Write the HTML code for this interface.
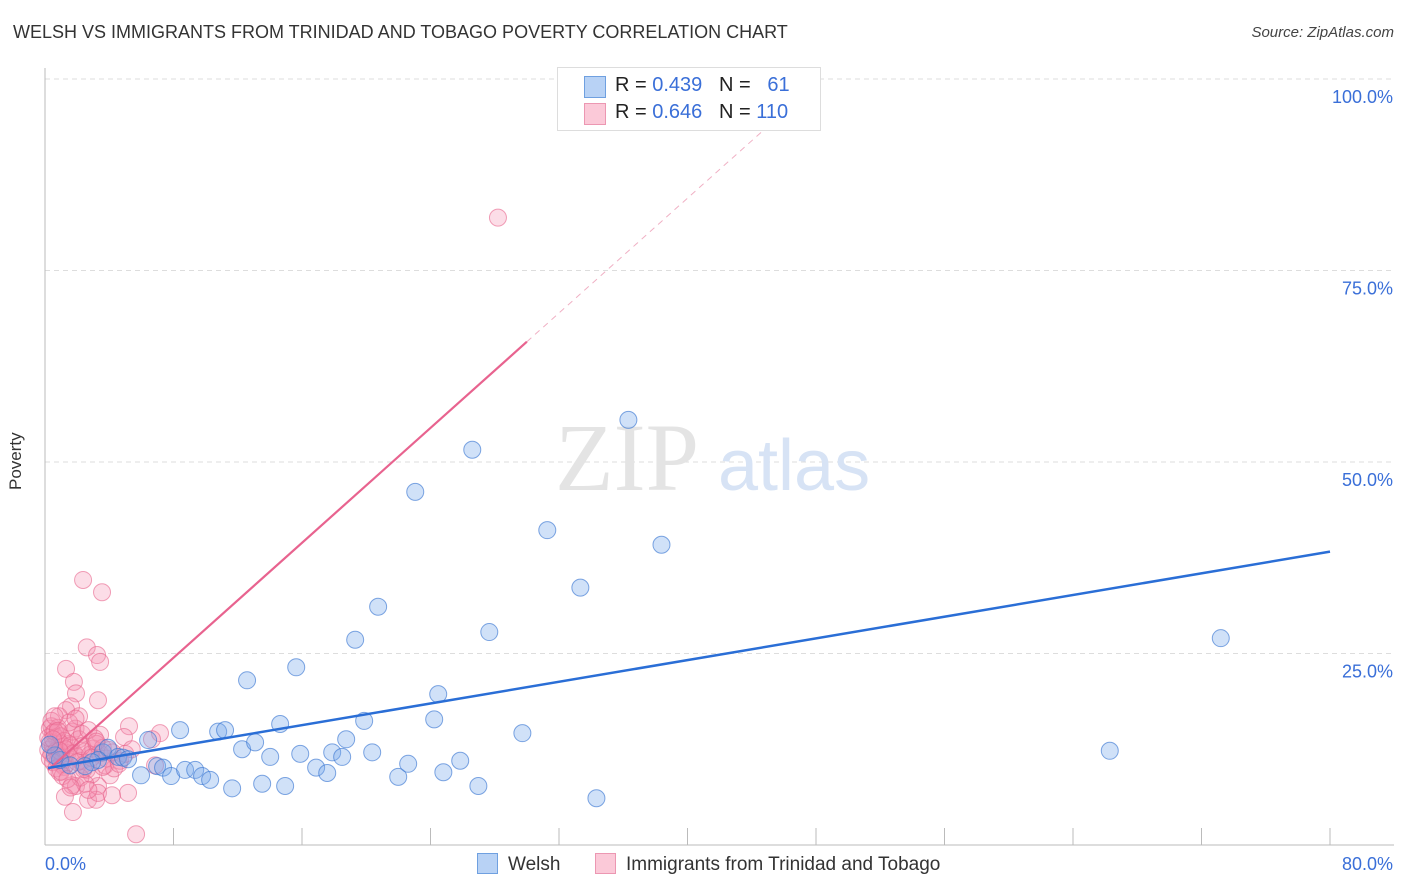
<!DOCTYPE html>
<html><head><meta charset="utf-8"><style>
body{margin:0;background:#fff;font-family:"Liberation Sans",sans-serif;}
#wrap{position:relative;width:1406px;height:892px;overflow:hidden;}
.t{position:absolute;white-space:nowrap;}
</style></head><body>
<div id="wrap">
<div class="t" style="left:13px;top:22px;font-size:18px;color:#333;">WELSH VS IMMIGRANTS FROM TRINIDAD AND TOBAGO POVERTY CORRELATION CHART</div>
<div class="t" style="right:12px;top:24px;font-size:15px;font-style:italic;color:#444;">Source: ZipAtlas.com</div>
<div class="t" style="left:6px;top:444px;font-size:17px;color:#333;transform:rotate(-90deg);transform-origin:left top;top:490px;">Poverty</div>
<svg id="svg" width="1406" height="892" style="position:absolute;left:0;top:0"></svg>
</div>
<script>
const xTicks=[0,80];
const yTicks=[25,50,75,100];
const blueX=[5.98,6.42,6.98,7.35,7.85,8.41,8.72,9.35,9.78,10.28,10.78,11.21,11.65,12.27,12.58,13.08,13.52,14.02,14.64,14.95,15.64,15.89,16.88,17.57,17.88,18.5,18.75,19.31,19.87,20.37,20.74,21.99,22.61,23.05,24.48,24.23,24.8,25.85,26.6,26.98,27.66,29.72,31.27,33.33,34.33,36.32,38.38,66.29,73.2,3.61,3.92,4.55,4.86,5.17,3.3,2.93,2.49,0.93,0.62,0.31,1.56];
const blueY=[9.1,13.7,10.3,10.1,9.0,15.0,9.8,9.8,9.0,8.5,14.8,15.0,7.4,12.5,21.5,13.4,8.0,11.5,15.8,7.7,23.2,11.9,10.1,9.4,12.1,11.5,13.8,26.8,16.2,12.1,31.1,8.9,10.6,46.1,19.7,16.4,9.5,11.0,51.6,7.7,27.8,14.6,41.1,33.6,6.1,55.5,39.2,12.3,27.0,12.1,12.7,11.5,11.4,11.2,11.1,10.8,10.3,11.1,11.7,13.1,10.4];
const pinkX=[28.2,2.37,3.55,2.6,3.24,3.43,1.31,1.8,1.93,3.3,1.62,1.31,2.12,0.87,5.23,7.16,4.92,3.43,3.74,4.05,1.68,3.3,2.68,3.18,1.74,1.93,3.3,5.17,5.67,4.17,4.3,4.67,6.66,6.85,1.24,0.3,0.5,0.7,0.9,1.1,0.2,0.4,0.6,0.8,1.0,1.2,1.4,0.3,0.5,0.7,0.9,1.1,1.3,1.5,0.2,0.4,0.6,0.8,1.0,1.2,0.3,0.5,0.7,0.9,1.1,1.3,1.6,1.8,2.0,2.2,2.4,1.7,1.9,2.1,2.3,2.5,2.8,3.0,3.2,2.6,2.9,3.4,3.6,3.8,4.0,2.2,2.5,2.7,1.5,1.9,2.3,0.4,0.6,0.8,1.0,2.0,2.7,3.1,3.6,4.2,4.6,5.0,5.4,1.4,1.6,2.4,2.9,3.2,0.5,0.9];
const pinkY=[81.9,34.6,33.0,25.8,24.8,23.9,23.0,21.3,19.8,18.9,18.1,17.6,16.8,16.8,15.5,14.6,14.1,14.4,10.4,9.1,7.8,7.7,5.9,5.9,4.3,7.7,6.8,6.8,1.4,6.5,10.0,11.0,13.8,10.4,6.3,15.2,14.6,14.0,13.3,12.8,12.4,11.9,11.5,11.0,10.6,10.2,12.0,13.5,12.9,12.3,11.7,11.1,10.5,13.2,14.0,15.5,14.8,15.3,14.2,13.6,11.3,10.8,10.0,9.5,9.0,12.5,13.0,12.0,11.5,11.0,10.5,14.8,15.2,13.8,14.5,12.2,11.8,12.6,13.2,9.8,9.2,12.0,12.7,11.3,12.4,8.8,8.0,7.2,16.0,16.5,12.9,16.2,16.8,14.9,9.6,10.8,15.0,13.9,10.2,12.1,10.6,11.9,12.5,8.6,7.5,9.9,11.4,13.5,13.8,12.3];
const blueLine=[0.19,10.05,80,38.3];
const pinkLine=[0.19,9.8,30.0,65.7];
const pinkDash=[30.0,65.7,48.3,100];
const X=v=>45+v/80*1285, Y=v=>845-v*7.66;
const svg=document.getElementById('svg');const NS='http://www.w3.org/2000/svg';
function mk(t,a){const e=document.createElementNS(NS,t);for(const k in a)e.setAttribute(k,a[k]);svg.appendChild(e);return e;}
for(const v of yTicks){const g=mk('line',{x1:45,x2:1394,y1:Y(v),y2:Y(v),stroke:'#ddd','stroke-dasharray':'5,4'});


const t=mk('text',{x:1393,y:Y(v)+24,'text-anchor':'end','font-size':18,fill:'#3a6fd8'});t.textContent=v.toFixed(1)+'%';

}
let ax=mk('line',{x1:45,x2:45,y1:68,y2:845,stroke:'#bbb'});


ax=mk('line',{x1:45,x2:1394,y1:845,y2:845,stroke:'#bbb'});


for(let i=1;i<=10;i++){const t=mk('line',{x1:X(i*8),x2:X(i*8),y1:828,y2:845,stroke:'#bbb'});

}
xTicks.forEach((v,i)=>{const t=mk('text',{x:i?1393:45,y:870,'text-anchor':i?'end':'start','font-size':18,fill:'#3a6fd8'});t.textContent=v.toFixed(1)+'%';

});
let wm=mk('text',{x:555,y:490,'font-size':96,fill:'#e4e4e4','font-family':'Liberation Serif'});wm.textContent='ZIP';


wm=mk('text',{x:718,y:490,'font-size':72,fill:'#d7e3f5'});wm.textContent='atlas';


pinkX.forEach((x,i)=>{const c=mk('circle',{cx:X(x),cy:Y(pinkY[i]),r:8.5,fill:'rgba(244,143,177,0.3)',stroke:'rgba(232,100,140,0.6)','stroke-width':1});

});
blueX.forEach((x,i)=>{const c=mk('circle',{cx:X(x),cy:Y(blueY[i]),r:8.5,fill:'rgba(120,170,235,0.35)',stroke:'rgba(60,120,210,0.65)','stroke-width':1});

});
let l=mk('line',{x1:X(pinkDash[0]),y1:Y(pinkDash[1]),x2:X(pinkDash[2]),y2:Y(pinkDash[3]),stroke:'#f0b0c4','stroke-width':1,'stroke-dasharray':'6,5'});


l=mk('line',{x1:X(pinkLine[0]),y1:Y(pinkLine[1]),x2:X(pinkLine[2]),y2:Y(pinkLine[3]),stroke:'#e8638f','stroke-width':2.2});


l=mk('line',{x1:X(blueLine[0]),y1:Y(blueLine[1]),x2:X(blueLine[2]),y2:Y(blueLine[3]),stroke:'#2a6ed6','stroke-width':2.5});


</script>
<div style="position:absolute;left:557px;top:67px;width:262px;height:62px;border:1px solid #ddd;background:#fff;font-size:20px;color:#222;">
<div style="position:absolute;left:26px;top:8px;width:20px;height:20px;background:#b8d2f5;border:1px solid #6fa0e0;"></div>
<div class="t" style="left:57px;top:6px;">R = <span style="color:#3a6fd8">0.439</span>&nbsp;&nbsp;&nbsp;N = &nbsp;&nbsp;<span style="color:#3a6fd8">61</span></div>
<div style="position:absolute;left:26px;top:35px;width:20px;height:20px;background:#fbc9d8;border:1px solid #ec97b2;"></div>
<div class="t" style="left:57px;top:33px;">R = <span style="color:#3a6fd8">0.646</span>&nbsp;&nbsp;&nbsp;N = <span style="color:#3a6fd8">110</span></div>
</div>
<div class="t" style="left:477px;top:853px;font-size:19px;color:#333;"><span style="display:inline-block;width:19px;height:19px;background:#b8d2f5;border:1px solid #6fa0e0;vertical-align:-4px;margin-right:10px;"></span>Welsh</div>
<div class="t" style="left:595px;top:853px;font-size:19px;color:#333;"><span style="display:inline-block;width:19px;height:19px;background:#fbc9d8;border:1px solid #ec97b2;vertical-align:-4px;margin-right:10px;"></span>Immigrants from Trinidad and Tobago</div>
</body></html>
